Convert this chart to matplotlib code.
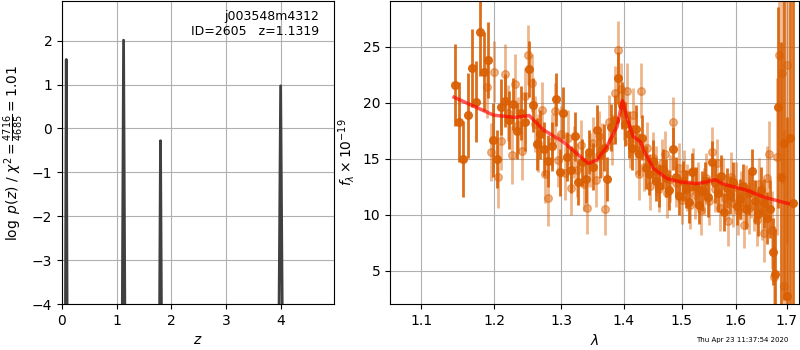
import numpy as np
import matplotlib
matplotlib.use('Agg')
import matplotlib.pyplot as plt

plt.rcParams['font.size'] = 10

# p(z) curve (left panel)
pz_z = [0.00, 0.058, 0.078, 0.098, 0.50,
        1.095, 1.125, 1.155, 1.50,
        1.775, 1.800, 1.825, 3.00,
        3.955, 3.995, 4.035, 4.97]
pz_log = [-30, -6, 1.57, -6, -30,
          -6, 2.01, -6, -30,
          -6, -0.28, -6, -30,
          -6, 0.97, -6, -30]

# spectrum, beam 1 (dark points), wavelength grid in microns
lam_a = np.arange(98) * 0.00585 + 1.145
flux_a = [21.6, 18.3, 15.0, 18.9, 23.1, 20.1, 26.3, 22.8, 23.8, 16.7,
          15.0, 19.6, 20.2, 18.5, 19.9, 17.5, 19.1, 18.3, 23.0, 19.8,
          16.3, 17.2, 15.9, 14.8, 16.1, 20.3, 13.8, 19.1, 15.2, 14.0,
          17.0, 12.9, 14.7, 13.2, 15.6, 14.3, 17.6, 15.3, 16.0, 13.2,
          17.8, 18.5, 22.2, 19.8, 18.1, 17.2, 16.0, 17.7, 15.4, 16.9,
          14.2, 13.6, 14.8, 13.0, 12.6, 14.1, 13.3, 12.2, 15.9, 13.4,
          11.7, 13.0, 12.3, 11.1, 13.8, 12.5, 10.9, 12.1, 13.0, 11.6,
          14.7, 12.8, 11.9, 13.5, 10.2, 12.4, 11.8, 12.9, 10.8, 11.4,
          12.6, 10.5, 11.9, 13.9, 11.2, 10.1, 12.2, 11.0, 9.7, 10.5,
          6.7, 4.7, 19.6, 13.4, 16.4, 2.7, 16.9, 11.0]
err_a = [3.7, 3.6, 3.4, 3.8, 3.5, 3.6, 3.9, 3.5, 3.4, 3.3,
         2.6, 2.5, 2.4, 2.6, 2.3, 2.5, 2.4, 2.6, 2.5, 2.4,
         2.3, 2.2, 2.4, 2.3, 2.2, 2.4, 2.1, 2.3, 2.2, 2.1,
         2.2, 2.0, 2.1, 2.2, 2.0, 2.1, 2.2, 2.0, 2.1, 2.0,
         2.1, 2.2, 2.3, 2.1, 2.0, 2.1, 2.0, 2.1, 1.9, 2.0,
         1.9, 1.8, 1.9, 1.8, 1.9, 1.8, 1.7, 1.8, 1.9, 1.8,
         1.7, 1.8, 1.7, 1.8, 1.7, 1.8, 1.7, 1.8, 1.7, 1.8,
         1.9, 1.8, 1.7, 1.8, 1.7, 1.8, 1.7, 1.8, 1.7, 1.8,
         1.9, 1.8, 1.9, 2.0, 1.9, 2.0, 2.1, 2.2, 2.3, 2.6,
         3.0, 4.0, 9.0, 12.0, 14.0, 16.0, 18.0, 20.0]

# spectrum, beam 2 (light points)
lam_b = np.arange(103) * 0.005 + 1.190
flux_b = [21.4, 15.6, 22.8, 13.4, 16.6, 22.6, 19.1, 15.3, 21.7, 18.0,
          15.7, 20.6, 24.3, 21.8, 18.1, 16.4, 19.4, 13.6, 11.5, 16.6,
          19.3, 14.9, 17.2, 13.7, 16.9, 12.4, 15.6, 14.0, 16.2, 12.7,
          10.6, 14.9, 16.4, 13.1, 17.0, 15.8, 10.5, 18.3, 16.7, 20.9,
          24.7, 21.2, 19.0, 21.1, 16.5, 18.9, 15.8, 13.6, 21.1, 14.3,
          16.0, 12.6, 15.1, 13.9, 12.3, 14.6, 15.4, 11.9, 13.2, 18.3,
          12.8, 14.2, 11.3, 13.6, 12.4, 10.9, 13.9, 11.8, 12.6, 10.4,
          12.1, 13.3, 11.2, 15.6, 12.3, 14.6, 10.6, 12.9, 11.5, 9.4,
          13.4, 11.0, 12.5, 10.3, 11.7, 9.1, 12.2, 10.6, 11.9, 10.8,
          9.5, 12.7, 10.2, 8.4, 13.3, 15.4, 8.6, 4.45, 15.2, 24.3,
          22.7, 3.6, 23.4]
err_b = [2.8, 2.6, 2.7, 2.8, 2.6, 2.7, 2.5, 2.6, 2.7, 2.5,
         2.6, 2.5, 2.7, 2.6, 2.5, 2.6, 2.5, 2.6, 2.5, 2.4,
         2.5, 2.4, 2.5, 2.4, 2.5, 2.4, 2.3, 2.4, 2.3, 2.4,
         2.3, 2.4, 2.3, 2.4, 2.3, 2.4, 2.3, 2.4, 2.3, 2.4,
         2.6, 2.4, 2.3, 2.5, 2.3, 2.4, 2.2, 2.3, 2.5, 2.2,
         2.3, 2.2, 2.3, 2.2, 2.1, 2.2, 2.1, 2.2, 2.1, 2.2,
         2.1, 2.2, 2.1, 2.2, 2.1, 2.2, 2.1, 2.2, 2.1, 2.2,
         2.1, 2.2, 2.1, 2.2, 2.1, 2.2, 2.1, 2.2, 2.1, 2.2,
         2.2, 2.1, 2.2, 2.1, 2.2, 2.1, 2.2, 2.3, 2.2, 2.3,
         2.3, 2.4, 2.5, 2.6, 2.8, 3.0, 3.5, 4.5, 7.0, 9.0,
         10.0, 14.0, 16.0]

# best-fit model
lam_m = [1.144, 1.199, 1.230, 1.251, 1.272, 1.303, 1.342, 1.356, 1.372,
         1.389, 1.398, 1.405, 1.416, 1.428, 1.436, 1.4505, 1.474, 1.497,
         1.527, 1.546, 1.561, 1.577, 1.621, 1.653, 1.703]
flux_m = [20.5, 18.9, 18.7, 18.86, 17.6, 16.5, 14.58, 14.88, 16.08,
          17.87, 20.2, 18.77, 16.98, 16.53, 15.5, 14.13, 13.23, 12.93,
          12.78, 12.93, 13.14, 12.72, 12.19, 11.59, 10.99]

zticks = [0, 1, 2, 3, 4]
lam_ticks = [1.1, 1.2, 1.3, 1.4, 1.5, 1.6, 1.7]
flux_ticks = [5, 10, 15, 20, 25]

orange = '#d95f02'

fig = plt.figure(figsize=(8, 3.5), dpi=100)
ax1 = fig.add_axes([0.0775, 0.131, 0.34, 0.866])
ax2 = fig.add_axes([0.4875, 0.131, 0.51125, 0.866])

# left: redshift PDF
ax1.plot(pz_z, pz_log, color='0.25', lw=2)
ax1.set_xlim(0, 4.97)
ax1.set_ylim(-4, 2.9)
ax1.set_xticks(zticks)
ax1.grid(True)
ax1.set_xlabel('$z$')
ax1.set_ylabel(r'$\log\ p(z)$ / $\chi^2=\frac{4716}{4685}=1.01$')
ax1.text(0.945, 0.97, 'j003548m4312\nID=2605   z=1.1319', ha='right', va='top',
         transform=ax1.transAxes, fontsize=9)

# right: spectrum + model
ax2.errorbar(lam_b, flux_b, err_b, fmt='o', color=orange, alpha=0.45,
             markersize=5.5, elinewidth=2, linestyle='none')
ax2.errorbar(lam_a, flux_a, err_a, fmt='o', color=orange, alpha=0.9,
             markersize=5.5, elinewidth=2, linestyle='none')
ax2.plot(lam_m, flux_m, color='r', alpha=0.65, lw=2.5, zorder=10)

ax2.set_xscale('log')
ax2.set_xlim(1.06, 1.725)
ax2.set_ylim(2, 29.1)
ax2.set_xticks(lam_ticks)
ax2.set_xticklabels(['%.1f' % t for t in lam_ticks])
ax2.minorticks_off()
ax2.set_yticks(flux_ticks)
ax2.grid(True)
ax2.set_xlabel(r'$\lambda$')
ax2.set_ylabel(r'$f_\lambda\times10^{-19}$')

fig.text(0.985, 0.028, 'Thu Apr 23 11:37:54 2020', ha='right', va='center',
         fontsize=5)

fig.savefig('out.png', dpi=100)
